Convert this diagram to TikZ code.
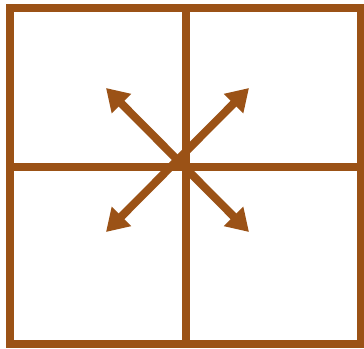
\documentclass[tikz,border=0pt]{standalone}
\usetikzlibrary{arrows.meta}
\definecolor{brn}{RGB}{155,82,22}
\begin{document}
\begin{tikzpicture}[x=1pt,y=1pt,
  frame/.style={draw=brn,line width=8pt,line cap=rect},
  arr/.style={draw=brn,line width=8pt,-{Triangle[length=22pt,width=26pt]}}]
\useasboundingbox (0,0) rectangle (364,348);
\fill[white] (0,0) rectangle (364,348);
\draw[frame] (10,4) rectangle (361,340);
\draw[frame] (186,4) -- (186,340);
\draw[frame] (10,181) -- (361,181);
\coordinate (c) at (177.5,188);
\coordinate (tl) at (106,260);
\coordinate (tr) at (249,260);
\coordinate (bl) at (106,116);
\coordinate (br) at (249,116);
\draw[arr] (c) -- (tl);
\draw[arr] (c) -- (tr);
\draw[arr] (c) -- (bl);
\draw[arr] (c) -- (br);
\end{tikzpicture}
\end{document}
